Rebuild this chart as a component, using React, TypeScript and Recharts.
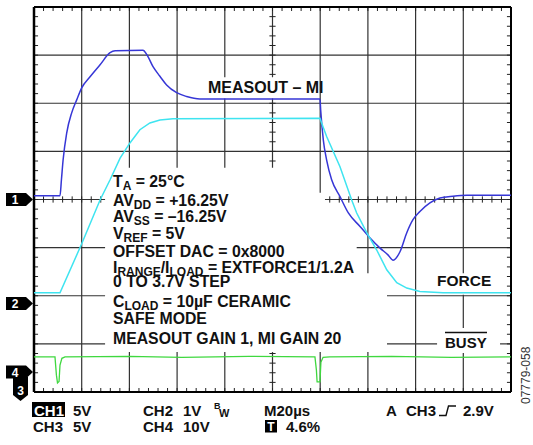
import React from "react";
import { LineChart, Line, XAxis, YAxis, ReferenceLine } from "recharts";

const W = 533;
const H = 445;
const FONT = "'Liberation Sans', Arial, Helvetica, sans-serif";

// scope screen: 10 div x 20µs, 8 vertical divisions (0 = bottom)
const TIME_MAX = 200;
const DIV_MAX = 8;

// CH1 MEASOUT – MI (blue)
const ch1Time = [0, 10.9, 11.5, 12.2, 13.7, 15.8, 17.9, 20, 23.5, 27.7, 31.9, 34, 45.7, 47.3, 49.9, 52.8, 55.6, 59.8, 64, 69.6, 119.9, 120.2, 121.3, 122.7, 124.8, 128.3, 131.8, 136.7, 140.9, 145.1, 148.4, 150.6, 153.5, 156.3, 158.9, 161.8, 166, 170.2, 175.7, 181.6, 200];
const ch1Div = [4.08, 4.08, 4.41, 4.82, 5.38, 5.8, 6.07, 6.32, 6.55, 6.8, 7.05, 7.09, 7.1, 7.01, 6.76, 6.56, 6.38, 6.22, 6.14, 6.09, 6.09, 5.86, 5.24, 4.82, 4.41, 4.06, 3.72, 3.44, 3.2, 2.99, 2.85, 2.74, 2.92, 3.31, 3.58, 3.75, 3.93, 4.03, 4.07, 4.09, 4.09];

// CH2 FORCE (cyan)
const ch2Time = [0, 10.9, 20, 27.7, 31.9, 36.1, 40.3, 44.4, 48.6, 52.8, 58.3, 119.9, 120.6, 122.7, 128.3, 133.2, 135.3, 139.5, 143.7, 147.9, 152.1, 156.3, 161.8, 171.5, 200];
const ch2Div = [2.06, 2.06, 3.08, 3.99, 4.41, 4.86, 5.18, 5.45, 5.59, 5.65, 5.68, 5.69, 5.59, 5.31, 4.68, 3.99, 3.72, 3.31, 2.95, 2.54, 2.27, 2.16, 2.09, 2.06, 2.06];

// CH4 BUSY (green)
const ch4Time = [0, 8.8, 9.4, 9.85, 10.5, 10.9, 11.7, 13, 40, 62, 90, 117.8, 118.4, 118.7, 119.9, 120.3, 121.2, 124, 150, 175, 200];
const ch4Div = [0.73, 0.73, 0.35, 0.19, 0.22, 0.56, 0.7, 0.73, 0.74, 0.72, 0.74, 0.73, 0.46, 0.21, 0.21, 0.62, 0.72, 0.73, 0.74, 0.72, 0.73];

const toRows = (t: number[], v: number[]) => t.map((x, i) => ({ t: x, v: v[i] }));
const ch1 = toRows(ch1Time, ch1Div);
const ch2 = toRows(ch2Time, ch2Div);
const ch4 = toRows(ch4Time, ch4Div);

// graticule pieces that are not hidden behind the annotation text
const vGrid: [number, [number, number][]][] = [
  [20, [[0, 8]]],
  [40, [[0, 0.83], [4.66, 8]]],
  [60, [[0, 0.83], [4.66, 8]]],
  [80, [[0, 0.83], [4.66, 6.1], [6.54, 8]]],
  [100, [[0, 0.83], [4.66, 6.1], [6.54, 8]]],
  [120, [[0, 0.83], [4.14, 8]]],
  [140, [[0, 0.83], [2.47, 8]]],
  [160, [[0, 8]]],
  [180, [[0, 0.81], [1.33, 2.02], [2.47, 8]]],
];
const hGrid: [number, [number, number][]][] = [
  [1, [[0, 29.8], [148, 169], [195.4, 200]]],
  [2, [[0, 29.8], [148, 200]]],
  [3, [[0, 29.8], [135.3, 200]]],
  [4, [[0, 29.8], [122, 200]]],
  [5, [[0, 200]]],
  [6, [[0, 200]]],
  [7, [[0, 200]]],
];

const inside = (x: number, ranges: [number, number][]) => ranges.some(([a, b]) => x > a + 0.01 && x < b - 0.01);

const tMinor: number[] = [];
for (let t = 4; t < TIME_MAX; t += 4) tMinor.push(t);
const vMinor: number[] = [];
for (let i = 1; i < 40; i++) vMinor.push(i / 5);

const TX = 1.7; // 4px in µs
const TY = 0.083; // 4px in div
const CX = 1.3;
const CY = 0.065;

const segs: { k: string; p: [number, number, number, number]; w?: number; c?: string }[] = [];
vGrid.forEach(([t, rs]) => rs.forEach(([a, b], i) => segs.push({ k: `vg${t}-${i}`, p: [t, a, t, b], w: 1.2, c: "#333" })));
hGrid.forEach(([v, rs]) => rs.forEach(([a, b], i) => segs.push({ k: `hg${v}-${i}`, p: [a, v, b, v], w: 1.2, c: "#333" })));
tMinor.forEach((t) => {
  segs.push({ k: `tt${t}`, p: [t, DIV_MAX, t, DIV_MAX - TY] });
  segs.push({ k: `tb${t}`, p: [t, 0, t, TY] });
  if (inside(t, hGrid[3][1])) segs.push({ k: `tc${t}`, p: [t, 4 - CY, t, 4 + CY] });
});
vMinor.forEach((v) => {
  segs.push({ k: `tl${v}`, p: [0, v, TX, v] });
  segs.push({ k: `tr${v}`, p: [TIME_MAX, v, TIME_MAX - TX, v] });
  if (inside(v, vGrid[4][1])) segs.push({ k: `tv${v}`, p: [100 - CX, v, 100 + CX, v] });
});

type Run = [string, boolean?];
const infoLines: Run[][] = [
  [["T"], ["A", true], [" = 25°C"]],
  [["AV"], ["DD", true], [" = +16.25V"]],
  [["AV"], ["SS", true], [" = –16.25V"]],
  [["V"], ["REF", true], [" = 5V"]],
  [["OFFSET DAC = 0x8000"]],
  [["I"], ["RANGE", true], ["/I"], ["LOAD", true], [" = EXTFORCE1/1.2A"]],
  [["0 TO 3.7V STEP"]],
  [["C"], ["LOAD", true], [" = 10µF CERAMIC"]],
  [["SAFE MODE"]],
  [["MEASOUT GAIN 1, MI GAIN 20"]],
];
const infoBase = [187, 205.5, 222, 239, 256.5, 273, 287, 306.5, 323.5, 344];

const RunText = ({ runs, x, y, size }: { runs: Run[]; x: number; y: number; size: number }) => {
  let shift = 0;
  return (
    <text x={x} y={y} fontSize={size} fontWeight="bold" fill="#111">
      {runs.map(([s, sub], j) => {
        const target = sub ? 3 : 0;
        const dy = target - shift;
        shift = target;
        return (
          <tspan key={j} dy={dy} fontSize={sub ? size * 0.76 : size}>
            {s}
          </tspan>
        );
      })}
    </text>
  );
};

const Marker = ({ y, label }: { y: number; label: string }) => (
  <g>
    <path d={`M6 ${y - 6.5} H26 L33 ${y} L26 ${y + 6.5} H6 Z`} fill="#000" />
    <text x={15} y={y + 4.5} fontSize={12} fontWeight="bold" fill="#fff" textAnchor="middle">
      {label}
    </text>
  </g>
);

const App = () => (
  <div style={{ position: "absolute", left: 0, top: 0, width: W, height: H, background: "#fff", fontFamily: FONT }}>
    <LineChart width={W} height={H} margin={{ top: 7, right: 22, bottom: 53, left: 34 }}>
      <XAxis type="number" dataKey="t" domain={[0, TIME_MAX]} allowDataOverflow hide />
      <YAxis type="number" dataKey="v" domain={[0, DIV_MAX]} allowDataOverflow hide />
      {segs.map((s) => (
        <ReferenceLine
          key={s.k}
          segment={[{ x: s.p[0], y: s.p[1] }, { x: s.p[2], y: s.p[3] }]}
          stroke={s.c ?? "#222"}
          strokeWidth={s.w ?? 1}
        />
      ))}
      <ReferenceLine x={0} stroke="#000" strokeWidth={2.5} />
      <ReferenceLine x={TIME_MAX} stroke="#000" strokeWidth={2} />
      <ReferenceLine y={0} stroke="#000" strokeWidth={2} />
      <ReferenceLine y={DIV_MAX} stroke="#000" strokeWidth={2} />
      <Line data={ch1} dataKey="v" type="monotone" stroke="#3636d6" strokeWidth={1.5} dot={false} isAnimationActive={false} />
      <Line data={ch2} dataKey="v" type="linear" stroke="#3ee4f0" strokeWidth={1.5} dot={false} isAnimationActive={false} />
      <Line data={ch4} dataKey="v" type="linear" stroke="#3fd83f" strokeWidth={1.3} dot={false} isAnimationActive={false} />
    </LineChart>
    <svg width={W} height={H} style={{ position: "absolute", left: 0, top: 0, pointerEvents: "none" }} fontFamily={FONT}>
      <text x={208} y={93} fontSize={16} fontWeight="bold" fill="#111">MEASOUT – MI</text>
      {infoLines.map((runs, i) => (
        <RunText key={i} runs={runs} x={113} y={infoBase[i]} size={15.8} />
      ))}
      <text x={437} y={286} fontSize={15.5} fontWeight="bold" fill="#111">FORCE</text>
      <text x={445} y={348} fontSize={15} fontWeight="bold" fill="#111">BUSY</text>
      <line x1={445} y1={332.5} x2={487} y2={332.5} stroke="#111" strokeWidth={1.3} />

      <Marker y={199.5} label="1" />
      <Marker y={303.5} label="2" />
      <path d="M13 377 H28 V395 L20.5 401 L13 395 Z" fill="#000" />
      <text x={20.5} y={395} fontSize={12} fontWeight="bold" fill="#fff" textAnchor="middle">3</text>
      <Marker y={372} label="4" />

      <g fontSize={15} fontWeight="bold" fill="#111">
        <rect x={32} y={402} width={33} height={15} fill="#000" />
        <text x={34} y={416} fill="#fff">CH1</text>
        <text x={73} y={416}>5V</text>
        <text x={143} y={416}>CH2</text>
        <text x={183} y={416}>1V</text>
        <text x={214} y={409} fontSize={9}>B</text>
        <text x={219} y={417} fontSize={11}>W</text>
        <text x={264} y={416}>M20µs</text>
        <text x={386} y={416}>A</text>
        <text x={406} y={416}>CH3</text>
        <path d="M439 415.5 H446 L448.5 406 H456" fill="none" stroke="#111" strokeWidth={1.4} />
        <text x={463} y={416}>2.9V</text>
        <text x={33} y={431.5}>CH3</text>
        <text x={73} y={431.5}>5V</text>
        <text x={143} y={431.5}>CH4</text>
        <text x={183} y={431.5}>10V</text>
        <rect x={265} y={420} width={12} height={12.5} fill="#000" />
        <text x={271} y={431} fill="#fff" fontSize={12} textAnchor="middle">T</text>
        <text x={286} y={431.5}>4.6%</text>
      </g>
      <text x={530} y={404} fontSize={12} fill="#333" transform="rotate(-90 530 404)">07779-058</text>
    </svg>
  </div>
);

export default App;
